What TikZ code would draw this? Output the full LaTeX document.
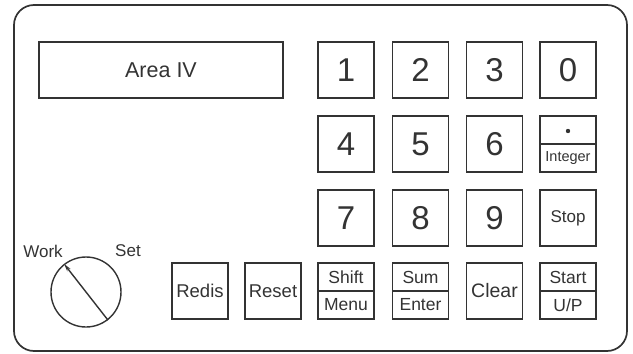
\documentclass[tikz,border=0pt]{standalone}
\usepackage{fontspec}
\setmainfont{Liberation Sans}
\usetikzlibrary{arrows.meta}
\definecolor{ink}{HTML}{333333}
\tikzset{
  keybox/.style={draw=ink, line width=1.4pt, minimum width=56pt, minimum height=56pt, inner sep=0pt, text=ink},
  digit/.style={keybox, font=\fontsize{33}{33}\selectfont},
  word/.style={keybox, font=\fontsize{18.5}{18.5}\selectfont},
  half/.style={text=ink, inner sep=0pt, font=\fontsize{17.5}{17.5}\selectfont},
  lbl/.style={text=ink, inner sep=0pt, font=\fontsize{17}{17}\selectfont}
}
\begin{document}
\begin{tikzpicture}[x=1pt, y=-1pt]
\useasboundingbox (0,0) rectangle (633,354);
% panel
\draw[ink, line width=1.7pt, rounded corners=20pt] (14,5) rectangle (627,351);
% display
\node[draw=ink, line width=1.4pt, minimum width=244pt, minimum height=56pt, inner sep=0pt, text=ink, font=\fontsize{21.5}{21.5}\selectfont] (area) at (161,70) {Area IV};
% digit keys
\node[digit] (k1) at (346,70) {1};
\node[digit] (k2) at (420.5,70) {2};
\node[digit] (k3) at (494.5,70) {3};
\node[digit] (k0) at (568,70) {0};
\node[digit] (k4) at (346,144) {4};
\node[digit] (k5) at (420.5,144) {5};
\node[digit] (k6) at (494.5,144) {6};
\node[keybox] (kdot) at (568,144) {};
\node[digit] (k7) at (346,218) {7};
\node[digit] (k8) at (420.5,218) {8};
\node[digit] (k9) at (494.5,218) {9};
\node[word, font=\fontsize{17}{17}\selectfont] (kstop) at (568,218) {Stop};
% bottom row
\node[word] (kredis) at (200,291) {Redis};
\node[word] (kreset) at (273,291) {Reset};
\node[keybox] (kshift) at (346,291) {};
\node[keybox] (ksum) at (420.5,291) {};
\node[word, font=\fontsize{19.5}{19.5}\selectfont] (kclear) at (494.5,291) {Clear};
\node[keybox] (kstart) at (568,291) {};
% split keys
\foreach \k in {kdot,kshift,ksum,kstart}{
  \draw[ink, line width=1.4pt] (\k.west) -- (\k.east);
}
\fill[ink] ([yshift=13pt]kdot.center) circle (2.2pt);
\node[half, font=\fontsize{14.5}{14.5}\selectfont] (tint) at ([yshift=-14.5pt]kdot.center) {Integer};
\node[half] (tshift) at ([yshift=14pt]kshift.center) {Shift};
\node[half] (tmenu) at ([yshift=-14pt]kshift.center) {Menu};
\node[half] (tsum) at ([yshift=14pt]ksum.center) {Sum};
\node[half] (tenter) at ([yshift=-14pt]ksum.center) {Enter};
\node[half] (tstart) at ([yshift=14pt]kstart.center) {Start};
\node[half] (tup) at ([yshift=-14pt]kstart.center) {U/P};
% dial
\node[draw=ink, line width=1.4pt, circle, minimum size=70pt, inner sep=0pt] (dial) at (86,292) {};
\draw[ink, line width=1.4pt, -{Stealth[length=8pt, width=4pt]}] (dial.308) -- (dial.128);
\node[lbl] (work) at (43,251) {Work};
\node[lbl] (set) at (128,251) {Set};
\end{tikzpicture}
\end{document}
